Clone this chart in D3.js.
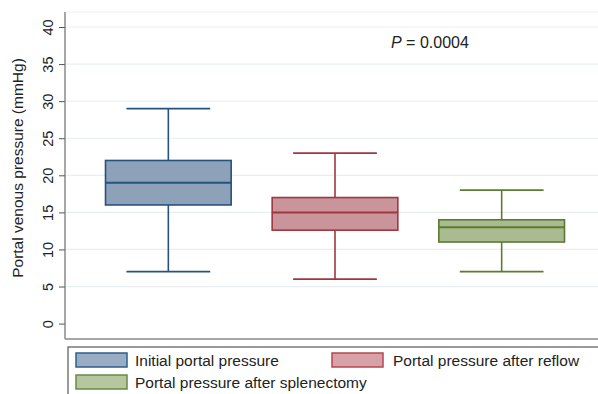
<!DOCTYPE html>
<html>
<head>
<meta charset="utf-8">
<script src="https://cdn.jsdelivr.net/npm/d3@7"></script>
<style>
  html, body { margin: 0; padding: 0; background: #fff; }
  svg { display: block; font-family: "Liberation Sans", Arial, sans-serif; }
</style>
</head>
<body>
<svg id="chart" width="598" height="394"></svg>
<script>
// ---- data ----
const categories = ["Initial portal pressure", "Portal pressure after reflow", "Portal pressure after splenectomy"];
const whiskerLow  = [7, 6, 7];
const q1Values    = [16, 12.6, 11];
const medians     = [19, 15, 13];
const q3Values    = [22, 17, 14];
const whiskerHigh = [29, 23, 18];
const yTicks = [0, 5, 10, 15, 20, 25, 30, 35, 40];
const yTitle = "Portal venous pressure (mmHg)";
const pLabel = "0.0004";

// ---- styles ----
const fills   = ["#8da2b9", "#c9959b", "#abbb91"];
const strokes = ["#25527e", "#a0363f", "#5b7b33"];
const legFills   = ["#98adc4", "#d6a1a7", "#b6c69f"];
const legStrokes = ["#2f5f8a", "#b44650", "#6a8a43"];

const svg = d3.select("#chart");
const plotL = 65, plotR = 598, plotT = 12, plotB = 339;

const y = d3.scaleLinear().domain([0, 40]).range([323.6, 27]);
const x = d3.scaleBand().domain(categories).range([85, 585]).padding(0);
const boxW = x.bandwidth() * 0.754;
const capW = boxW * 2 / 3;

// plot region outline (faint)
svg.append("line").attr("x1", plotL).attr("x2", plotR).attr("y1", plotT).attr("y2", plotT)
  .attr("stroke", "#eef3f3").attr("stroke-width", 1);

// gridlines
svg.append("g").selectAll("line").data(yTicks.filter(d => d > 0)).join("line")
  .attr("x1", plotL).attr("x2", plotR)
  .attr("y1", d => y(d)).attr("y2", d => y(d))
  .attr("stroke", "#e8eff0").attr("stroke-width", 1.2);

// y axis
const yAxis = d3.axisLeft(y).tickValues(yTicks).tickSize(6).tickPadding(0).tickFormat(d3.format("d"));
const gy = svg.append("g").attr("transform", `translate(${plotL},0)`).call(yAxis);
gy.select(".domain").remove();
gy.selectAll(".tick line").attr("stroke", "#555").attr("stroke-width", 1);
gy.selectAll(".tick text")
  .attr("transform", "rotate(-90)")
  .attr("x", 0).attr("y", -12.5).attr("dy", 0)
  .attr("text-anchor", "middle")
  .attr("font-size", "14.5px").attr("fill", "#222");

// axis lines
svg.append("line").attr("x1", plotL).attr("x2", plotL).attr("y1", plotT).attr("y2", plotB)
  .attr("stroke", "#777").attr("stroke-width", 1.3);
svg.append("line").attr("x1", plotL).attr("x2", plotR).attr("y1", plotB).attr("y2", plotB)
  .attr("stroke", "#888").attr("stroke-width", 1.5);

// y title
svg.append("text")
  .attr("transform", `translate(23,168) rotate(-90)`)
  .attr("text-anchor", "middle")
  .attr("font-size", "15.5px").attr("fill", "#222")
  .text(yTitle);

// boxes
const boxes = svg.append("g").selectAll("g").data(categories).join("g");
boxes.each(function(c, i) {
  const g = d3.select(this);
  const cx = x(c) + x.bandwidth() / 2;
  const st = strokes[i];
  g.append("line").attr("x1", cx).attr("x2", cx).attr("y1", y(q3Values[i])).attr("y2", y(whiskerHigh[i]))
    .attr("stroke", st).attr("stroke-width", 1.6);
  g.append("line").attr("x1", cx).attr("x2", cx).attr("y1", y(q1Values[i])).attr("y2", y(whiskerLow[i]))
    .attr("stroke", st).attr("stroke-width", 1.6);
  g.append("line").attr("x1", cx - capW / 2).attr("x2", cx + capW / 2).attr("y1", y(whiskerHigh[i])).attr("y2", y(whiskerHigh[i]))
    .attr("stroke", st).attr("stroke-width", 1.8);
  g.append("line").attr("x1", cx - capW / 2).attr("x2", cx + capW / 2).attr("y1", y(whiskerLow[i])).attr("y2", y(whiskerLow[i]))
    .attr("stroke", st).attr("stroke-width", 1.8);
  g.append("rect").attr("x", cx - boxW / 2).attr("width", boxW)
    .attr("y", y(q3Values[i])).attr("height", y(q1Values[i]) - y(q3Values[i]))
    .attr("fill", fills[i]).attr("stroke", st).attr("stroke-width", 1.6);
  g.append("line").attr("x1", cx - boxW / 2).attr("x2", cx + boxW / 2).attr("y1", y(medians[i])).attr("y2", y(medians[i]))
    .attr("stroke", st).attr("stroke-width", 2);
});

// P value annotation
const pt = svg.append("text").attr("x", 391).attr("y", 47.5).attr("font-size", "16px").attr("fill", "#222");
pt.append("tspan").attr("font-style", "italic").text("P");
pt.append("tspan").text(" = " + pLabel);

// legend
svg.append("rect").attr("x", 68).attr("y", 347).attr("width", 540).attr("height", 60)
  .attr("fill", "#fff").attr("stroke", "#666").attr("stroke-width", 1.3);
const legPos = [
  {sx: 76, sy: 353, tx: 135, ty: 366},
  {sx: 332, sy: 353, tx: 393, ty: 366},
  {sx: 76, sy: 375, tx: 135, ty: 388}
];
const leg = svg.append("g").selectAll("g").data(categories).join("g");
leg.append("rect")
  .attr("x", (d, i) => legPos[i].sx).attr("y", (d, i) => legPos[i].sy)
  .attr("width", 51).attr("height", 14)
  .attr("fill", (d, i) => legFills[i]).attr("stroke", (d, i) => legStrokes[i]).attr("stroke-width", 1.5);
leg.append("text")
  .attr("x", (d, i) => legPos[i].tx).attr("y", (d, i) => legPos[i].ty)
  .attr("font-size", "15.5px").attr("fill", "#222")
  .text(d => d);
</script>
</body>
</html>
